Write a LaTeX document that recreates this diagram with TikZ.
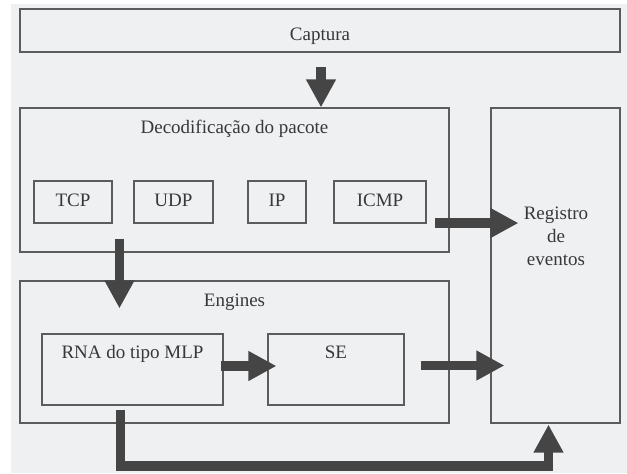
\documentclass[tikz,border=0pt]{standalone}
\usepackage{fontspec}
\setmainfont{Liberation Serif}
\usetikzlibrary{arrows.meta,calc}
\definecolor{bggray}{HTML}{EFF0F2}
\definecolor{boxline}{HTML}{5C5C5C}
\definecolor{arrowgray}{HTML}{454545}
\definecolor{txtgray}{HTML}{383838}
\tikzset{
  box/.style={draw=boxline, line width=1.1pt, inner sep=0pt, rectangle},
  txt/.style={text=txtgray, inner sep=0pt, anchor=base, font=\fontsize{19}{23}\selectfont},
  fat/.style={draw=arrowgray, line width=9.5pt, -{Triangle[width=28pt,length=28pt]}},
}
\begin{document}
\begin{tikzpicture}[x=1pt,y=-1pt]
\useasboundingbox (0,0) rectangle (627,474);
\fill[white] (0,0) rectangle (627,474);
\fill[bggray] (11,4) rectangle (627,473);

% boxes
\node[box, minimum width=600pt, minimum height=43pt] (cap) at (320,30.5) {};
\node[box, minimum width=429pt, minimum height=144pt] (dec) at (234.5,180) {};
\node[box, minimum width=129pt, minimum height=315pt] (reg) at (555.5,265.5) {};
\node[box, minimum width=429pt, minimum height=142pt] (eng) at (234.5,352) {};
\node[box, minimum width=78pt, minimum height=42pt] (tcp) at (73,202) {};
\node[box, minimum width=79pt, minimum height=42pt] (udp) at (173.5,202) {};
\node[box, minimum width=58pt, minimum height=42pt] (ip) at (277,202) {};
\node[box, minimum width=92pt, minimum height=42pt] (icmp) at (380,202) {};
\node[box, minimum width=181pt, minimum height=71pt] (rna) at (132.5,369.5) {};
\node[box, minimum width=136pt, minimum height=71pt] (se) at (336,369.5) {};

% texts
\node[txt] (tcap) at (320,40) {Captura};
\node[txt] (tdec) at (234.5,133) {Decodificação do pacote};
\node[txt] (ttcp) at (73,206) {TCP};
\node[txt] (tudp) at (173.5,206) {UDP};
\node[txt] (tip) at (277,206) {IP};
\node[txt] (ticmp) at (380,206) {ICMP};
\node[txt] (treg1) at (556,219) {Registro};
\node[txt] (treg2) at (556,242) {de};
\node[txt] (treg3) at (556,265) {eventos};
\node[txt] (teng) at (234.5,306) {Engines};
\node[txt] (trna) at (132.5,358) {RNA do tipo MLP};
\node[txt] (tse) at (336,358) {SE};

% arrows
\coordinate (a1) at ($(cap.south)+(1,14)$);
\draw[fat] (a1) -- (a1 |- dec.north);
\coordinate (a2) at ($(icmp.south east)+(8,-0.5)$);
\draw[fat] (a2) -- ($(a2 -| reg.west)+(28,0)$);
\coordinate (a3) at ($(dec.south west)+(100,-14)$);
\draw[fat] (a3) -- ($(a3 |- eng.north)+(0,28)$);
\draw[fat] ($(rna.east)+(-3,-3.5)$) -- ($(se.west)+(9,-3.5)$);
\coordinate (a5) at ($(se.east)+(16,-4)$);
\draw[fat] (a5) -- ($(a5 -| reg.west)+(14,0)$);
\draw[fat] ($(rna.south)+(-12,4)$) -- ++(0,56.5) -| ($(reg.south)+(-7,1)$);
\end{tikzpicture}
\end{document}
